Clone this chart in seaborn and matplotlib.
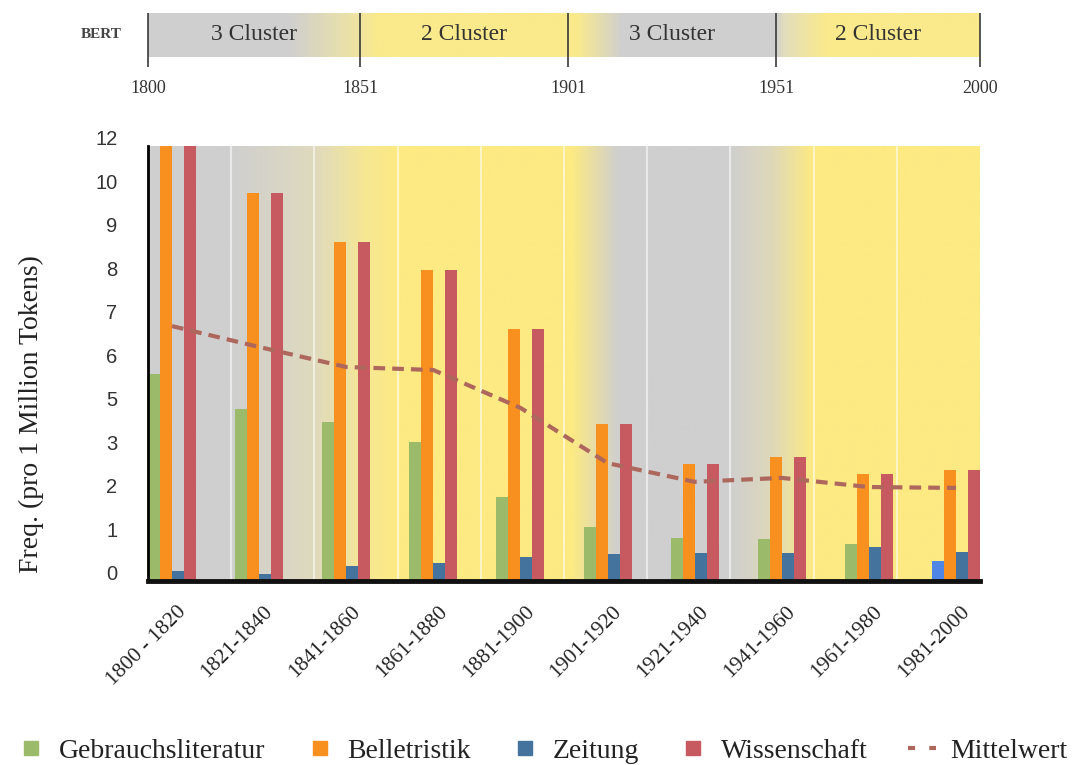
import numpy as np
import pandas as pd
import matplotlib
matplotlib.use('Agg')
import matplotlib.pyplot as plt
import matplotlib.transforms as mtransforms
from matplotlib.lines import Line2D
import seaborn as sns

# Daten
PERIODS = ['1800 - 1820', '1821-1840', '1841-1860', '1861-1880', '1881-1900',
           '1901-1920', '1921-1940', '1941-1960', '1961-1980', '1981-2000']
SERIES = ['Gebrauchsliteratur', 'Belletristik', 'Zeitung', 'Wissenschaft']
GEBRAUCH = [5.76, 4.9, 4.31, 3.4, 1.92, 1.23, 0.98, 0.96, 0.85, 0.46]
BELLETRISTIK = [12.0, 9.93, 8.79, 8.16, 6.79, 4.2, 2.7, 2.86, 2.47, 2.56]
ZEITUNG = [0.23, 0.17, 0.34, 0.42, 0.55, 0.63, 0.65, 0.65, 0.78, 0.67]
WISSENSCHAFT = [12.0, 9.93, 8.79, 8.16, 6.79, 4.2, 2.7, 2.86, 2.47, 2.56]
MITTELWERT = [6.86, 6.38, 5.92, 5.85, 4.96, 2.71, 2.28, 2.37, 2.16, 2.14]

# Achse der Vorlage: gleichmaessige Abstaende, aber "4" und "11" fehlen
YTICKS = [0, 1, 2, 3, 5, 6, 7, 8, 9, 10, 12]

# BERT-Cluster oben
CLUSTER_YEARS = [1800, 1851, 1901, 1951, 2000]
CLUSTER_LABELS = ['3 Cluster', '2 Cluster', '3 Cluster', '2 Cluster']

COLORS = ['#9cbb6a', '#f7901e', '#44739e', '#c75a60']
EXTRA_BLUE = '#4f86e6'
LINE_COLOR = '#ad675d'
GRAY = (207, 207, 207)
YELLOW = (253, 234, 131)
YELLOW_TOP = (250, 234, 140)


def gradient(stops, years):
    xs = [s[0] for s in stops]
    img = np.zeros((1, len(years), 3))
    for c in range(3):
        img[0, :, c] = np.interp(years, xs, [s[1][c] for s in stops]) / 255
    return img


sns.set_style('white')
plt.rcParams['font.family'] = ['Liberation Serif', 'DejaVu Serif']

df = pd.DataFrame({
    'Zeitraum': np.tile(PERIODS, len(SERIES)),
    'Serie': np.repeat(SERIES, len(PERIODS)),
    'Wert': GEBRAUCH + BELLETRISTIK + ZEITUNG + WISSENSCHAFT,
})

fig = plt.figure(figsize=(10.8, 7.65), dpi=100)
W, H = 1080, 765
rect_main = [148 / W, 1 - 581 / H, 832 / W, 435 / H]

# --- Hintergrund des Hauptdiagramms (Farbverlauf nach Jahren)
ax_bg = fig.add_axes(rect_main, zorder=0)
years = np.linspace(1800, 2000, 800)
bg_stops = [(1800, GRAY), (1820, GRAY), (1840, (223, 218, 190)), (1852, (246, 231, 148)),
            (1860, YELLOW), (1902, YELLOW), (1913, GRAY), (1940, GRAY),
            (1950, (222, 216, 186)), (1960, YELLOW), (2000, YELLOW)]
ax_bg.imshow(gradient(bg_stops, years), extent=(1800, 2000, 0, 1), aspect='auto')
ax_bg.vlines(np.arange(1820, 2000, 20), 0, 1, color='white', alpha=0.55, lw=1.5)
ax_bg.set_xlim(1800, 2000)
ax_bg.set_ylim(0, 1)
ax_bg.axis('off')

# --- Balken
ax = fig.add_axes(rect_main, zorder=2)
ax.patch.set_alpha(0)
fwd = lambda v: np.interp(v, YTICKS, np.arange(len(YTICKS)))
inv = lambda p: np.interp(p, np.arange(len(YTICKS)), YTICKS)
ax.set_yscale('function', functions=(fwd, inv))

sns.barplot(data=df, x='Zeitraum', y='Wert', hue='Serie', hue_order=SERIES,
            palette=COLORS, width=0.55, gap=0, saturation=1, linewidth=0,
            legend=False, ax=ax)
# letzte Gebrauchsliteratur-Saeule ist in der Vorlage hellblau
ax.containers[0].patches[-1].set_facecolor(EXTRA_BLUE)

sns.lineplot(x=np.arange(len(PERIODS)), y=MITTELWERT, color=LINE_COLOR,
             linewidth=3, ax=ax, zorder=3)
ax.lines[-1].set_dashes((2.8, 1.7))

ax.set_xlim(-0.275, len(PERIODS) - 1 + 0.275)
ax.set_ylim(0, 12)
ax.set_yticks(YTICKS)
ax.set_yticklabels([str(t) for t in YTICKS], family='Liberation Sans',
                   fontsize=14.5, color='#333333')
ax.tick_params(axis='both', length=0)
ax.tick_params(axis='y', pad=22)
ax.tick_params(axis='x', pad=20)
ax.set_xticks(range(len(PERIODS)))
ax.set_xticklabels(PERIODS, rotation=45, ha='right', va='center',
                   rotation_mode='anchor', fontsize=15.5, color='#222222')
off_y = mtransforms.ScaledTranslation(0, 6 / 72, fig.dpi_scale_trans)
for lab in ax.get_yticklabels():
    lab.set_transform(lab.get_transform() + off_y)
off_x = mtransforms.ScaledTranslation(8 / 72, 0, fig.dpi_scale_trans)
for lab in ax.get_xticklabels():
    lab.set_transform(lab.get_transform() + off_x)
ax.set_xlabel('')
ax.set_ylabel('Freq. (pro 1 Million Tokens)', fontsize=20, color='#222222')
ax.yaxis.set_label_coords(-0.125, 0.384)
for s in ['top', 'right']:
    ax.spines[s].set_visible(False)
ax.spines['left'].set_color('black')
ax.spines['left'].set_linewidth(2)
ax.spines['bottom'].set_color('#111111')
ax.spines['bottom'].set_linewidth(3.5)

# --- BERT-Leiste oben
ax_top = fig.add_axes([148 / W, 1 - 57 / H, 832 / W, 44 / H])
top_stops = [(1800, GRAY), (1834, GRAY), (1851, (240, 229, 160)), (1855, YELLOW_TOP),
             (1903, YELLOW_TOP), (1914, GRAY), (1951, GRAY), (1953, (226, 221, 188)),
             (1963, YELLOW_TOP), (2000, YELLOW_TOP)]
ax_top.imshow(gradient(top_stops, years), extent=(1800, 2000, 0, 1), aspect='auto')
ax_top.set_xlim(1800, 2000)
ax_top.set_ylim(0, 1)
ax_top.axis('off')
ax_top.vlines(CLUSTER_YEARS, -0.23, 1, color='#3a3a3a', lw=1.2, clip_on=False)
for y0, y1, lab in zip(CLUSTER_YEARS[:-1], CLUSTER_YEARS[1:], CLUSTER_LABELS):
    ax_top.text((y0 + y1) / 2, 0.5, lab, ha='center', va='center',
                fontsize=17, color='#333333')
for yr in CLUSTER_YEARS:
    ax_top.text(yr, -0.72, str(yr), ha='center', va='center',
                fontsize=13, color='#333333', clip_on=False)
fig.text(101 / W, 1 - 34 / H, 'BERT', ha='center', va='center',
         fontsize=11, fontweight='bold', color='#444444')

# --- Legende
handles = [Line2D([], [], marker='s', linestyle='none', markersize=10,
                  markerfacecolor=c, markeredgecolor=c) for c in COLORS]
handles.append(Line2D([], [], color=LINE_COLOR, lw=3, dashes=(1.7, 3.4)))
fig.legend(handles, SERIES + ['Mittelwert'], loc='center',
           bbox_to_anchor=(0.502, 1 - 751 / H), ncol=5, frameon=False,
           fontsize=20, handlelength=1.0, handletextpad=0.5,
           columnspacing=1.45, labelcolor='#222222')

fig.savefig('out.png', dpi=100)
